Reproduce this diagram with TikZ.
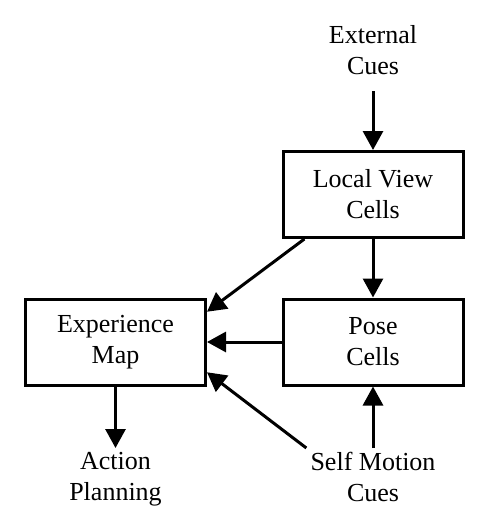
\documentclass[tikz,border=0pt]{standalone}
\usepackage{fontspec}
\setmainfont{Liberation Serif}
\usetikzlibrary{positioning}
\usetikzlibrary{arrows.meta,calc}

\begin{document}
\begin{tikzpicture}[x=1pt, y=-1pt,
   cell/.style={draw, line width=3pt, minimum width=180pt, minimum height=86pt, align=center, font=\fontsize{26}{31}\selectfont},
   cue/.style={align=center, inner sep=4pt, font=\fontsize{26}{31}\selectfont},
   flow/.style={line width=3pt, -{Triangle[width=20pt,length=19pt]}}]

 \useasboundingbox (0,0) rectangle (494,522);

 %boxes
 \node[cell] (LV) at (373,194.5) {Local View\\Cells};
 \node[cell] (PC) at (373,342) {Pose\\Cells};
 \node[cell] (EM) at (115.5,342) {Experience\\Map};

 %inputs and output
 \node[cue, anchor=south] (EC) at (373,79) {External\\Cues};
 \node[cue, anchor=north] (SM) at (373,448) {Self Motion\\Cues};
 \node[cue, anchor=north] (AP) at (115.5,448) {Action\\Planning};

 %arrows
 \draw[flow, shorten <=12pt] (EC.south) -- (LV.north);
 \draw[flow] (LV.south) -- (PC.north);
 \draw[flow] ($(LV.south west)!0.125!(LV.south east)$) -- ($(EM.north east)!0.16!(EM.south east)$);
 \draw[flow] (PC.west) -- (EM.east);
 \draw[flow] (SM.north west) -- ($(EM.north east)!0.84!(EM.south east)$);
 \draw[flow] (SM.north) -- (PC.south);
 \draw[flow] (EM.south) -- (AP.north);

\end{tikzpicture}
\end{document}
